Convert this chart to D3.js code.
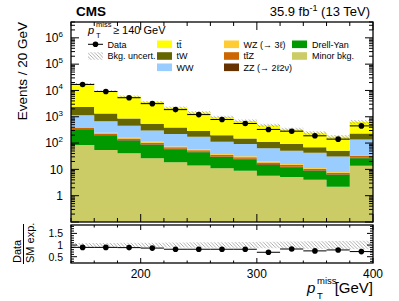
<!DOCTYPE html>
<html><head><meta charset="utf-8">
<script src="https://cdn.jsdelivr.net/npm/d3@7"></script>
<style>
body{margin:0;background:#fff}
svg{display:block;font-family:"Liberation Sans",Arial,Helvetica,sans-serif}
</style>
</head><body>
<svg id="c" width="399" height="301"></svg>
<script>
// ---- data ----
const binEdges = [140,160,180,200,220,240,260,280,300,320,340,360,380,400];
const minorBkg = [84, 54, 41, 26.5, 18.7, 13.9, 11.1, 8.8, 5.7, 5.1, 4.0, 2.2, 13.6];
const drellYan = [246, 141, 85, 59.5, 39.3, 30.6, 18.6, 15.2, 9.1, 7.0, 4.8, 4.0, 12.9];
const zz       = [12, 7.5, 5, 4, 2.4, 1.8, 1.4, 1.1, 0.75, 0.6, 0.4, 0.27, 1.3];
const ttz      = [45, 27, 19, 14, 8.8, 6.6, 5, 4.1, 2.8, 2.2, 1.4, 1.0, 4.7];
const wz       = [25, 15, 10, 8, 4.8, 3.6, 2.7, 2.3, 1.5, 1.2, 0.8, 0.55, 2.5];
const ww       = [728, 430, 292, 191, 146, 117, 73.5, 60, 43.3, 34.9, 31.9, 22.7, 102];
const tw       = [1200, 645, 410, 240, 172, 113, 88, 58, 49, 41, 26, 20.5, 96];
const ttbar    = [15460, 8080, 5040, 3080, 1830, 1155, 785, 545, 363, 238, 176, 122, 402];
const dataObs  = [16900, 9150, 5290, 3150, 1870, 1210, 785, 555, 330, 283, 189, 141, 450];
const ratio    = [0.90, 0.90, 0.89, 0.87, 0.82, 0.82, 0.82, 0.82, 0.69, 0.83, 0.75, 0.79, 0.72];
const relUnc   = [0.09, 0.09, 0.10, 0.10, 0.11, 0.12, 0.12, 0.13, 0.14, 0.15, 0.16, 0.17, 0.18];
const yTickExps = [0,1,2,3,4,5,6];
const xTickLabels = [200,300,400];
const rTickLabels = [0.5,1,1.5];

const seriesKeys = ["minor","dy","zz","ttz","wz","ww","tw","tt"];
const seriesColors = {minor:"#cccc66", dy:"#009900", zz:"#663300", ttz:"#cc6600", wz:"#ffcc33", ww:"#99ccff", tw:"#666600", tt:"#ffff00"};

const rows = binEdges.slice(0,-1).map((e,i)=>({x0:e, x1:binEdges[i+1],
  minor:minorBkg[i], dy:drellYan[i], zz:zz[i], ttz:ttz[i], wz:wz[i], ww:ww[i], tw:tw[i], tt:ttbar[i]}));

// ---- layout ----
const L=71, R=373, T=22, B=222, RT=225, RB=263;
const svg = d3.select("#c");
const x = d3.scaleLinear().domain([140,400]).range([L,R]);
const y = d3.scaleLog().domain([0.1,4e6]).range([B,T]).clamp(true);
const yr = d3.scaleLinear().domain([0.23,1.86]).range([RB,RT]).clamp(true);

const defs = svg.append("defs");
const pat = defs.append("pattern").attr("id","hatch").attr("patternUnits","userSpaceOnUse")
  .attr("width",3.5).attr("height",3.5);
pat.append("path").attr("d","M0,0L3.5,3.5M-1,2.5L1,4.5M2.5,-1L4.5,1")
  .attr("stroke","#999").attr("stroke-width",0.8);
defs.append("clipPath").attr("id","cm").append("rect").attr("x",L).attr("y",T).attr("width",R-L).attr("height",B-T);
defs.append("clipPath").attr("id","cr").append("rect").attr("x",L).attr("y",RT).attr("width",R-L).attr("height",RB-RT);

// ---- stack ----
const stacked = d3.stack().keys(seriesKeys)(rows);
const stepPts = s => { const p = s.map((d,i)=>({x:rows[i].x0, y0:d[0], y1:d[1]})); const l=s[s.length-1]; p.push({x:400,y0:l[0],y1:l[1]}); return p; };
const area = d3.area().curve(d3.curveStepAfter).x(d=>x(d.x)).y0(d=>y(Math.max(d.y0,0.1))).y1(d=>y(d.y1));
const gm = svg.append("g").attr("clip-path","url(#cm)");
stacked.forEach(s=>{
  gm.append("path").attr("d",area(stepPts(s))).attr("fill",seriesColors[s.key]);
});
// uncertainty band
const totals = rows.map((r,i)=>seriesKeys.reduce((a,k)=>a+r[k],0));
const uncPts = totals.map((t,i)=>({x:binEdges[i], lo:t*(1-relUnc[i]), hi:t*(1+relUnc[i])}));
uncPts.push({x:400, lo:uncPts[uncPts.length-1].lo, hi:uncPts[uncPts.length-1].hi});
gm.append("path").attr("d", d3.area().curve(d3.curveStepAfter).x(d=>x(d.x)).y0(d=>y(d.lo)).y1(d=>y(d.hi))(uncPts))
  .attr("fill","url(#hatch)");
// data
rows.forEach((r,i)=>{
  gm.append("line").attr("x1",x(r.x0)).attr("x2",x(r.x1)).attr("y1",y(dataObs[i])).attr("y2",y(dataObs[i])).attr("stroke","#000").attr("stroke-width",1);
  gm.append("circle").attr("cx",x((r.x0+r.x1)/2)).attr("cy",y(dataObs[i])).attr("r",2.8).attr("fill","#000");
});

// ---- ratio ----
const gr = svg.append("g").attr("clip-path","url(#cr)");
const rUnc = relUnc.map((u,i)=>({x:binEdges[i], lo:1-u, hi:1+u}));
rUnc.push({x:400, lo:rUnc[rUnc.length-1].lo, hi:rUnc[rUnc.length-1].hi});
gr.append("path").attr("d", d3.area().curve(d3.curveStepAfter).x(d=>x(d.x)).y0(d=>yr(d.lo)).y1(d=>yr(d.hi))(rUnc))
  .attr("fill","url(#hatch)");
rows.forEach((r,i)=>{
  gr.append("line").attr("x1",x(r.x0)).attr("x2",x(r.x1)).attr("y1",yr(ratio[i])).attr("y2",yr(ratio[i])).attr("stroke","#000").attr("stroke-width",1);
  gr.append("circle").attr("cx",x((r.x0+r.x1)/2)).attr("cy",yr(ratio[i])).attr("r",2.8).attr("fill","#000");
});

// ---- frames & ticks ----
const tk = svg.append("g").attr("stroke","#000").attr("stroke-width",1);
function tick(x1,y1,x2,y2){ tk.append("line").attr("x1",x1).attr("y1",y1).attr("x2",x2).attr("y2",y2); }
[[T,B],[RT,RB]].forEach(([t,b],pi)=>{
  binEdges.forEach(v=>{
    const maj = v%100===0; const len = maj ? (pi===0?8:5) : (pi===0?4:2.5);
    const px = x(v);
    tick(px,b,px,b-len); tick(px,t,px,t+len);
  });
});
for(let e=-1;e<=6;e++){
  for(let m=1;m<=9;m++){
    const v = m*Math.pow(10,e);
    if(v<0.1||v>4e6) continue;
    const len = m===1?8:4;
    const py = y(v);
    tick(L,py,L+len,py); tick(R,py,R-len,py);
  }
}
for(let k=3;k<=18;k++){
  const v=k/10; const maj = (k%5===0); const len = maj?6:3;
  const py=yr(v); tick(L,py,L+len,py); tick(R,py,R-len,py);
}
svg.append("rect").attr("x",L).attr("y",T).attr("width",R-L).attr("height",B-T).attr("fill","none").attr("stroke","#000").attr("stroke-width",1.3);
svg.append("rect").attr("x",L).attr("y",RT).attr("width",R-L).attr("height",RB-RT).attr("fill","none").attr("stroke","#000").attr("stroke-width",1.3);

// ---- tick labels ----
const lab = svg.append("g").attr("font-size",12).attr("fill","#000");
yTickExps.forEach(e=>{
  const t = lab.append("text").attr("x",63).attr("y",y(Math.pow(10,e))+4.3).attr("text-anchor","end");
  if(e===0) t.text("1");
  else if(e===1) t.text("10");
  else { t.append("tspan").text("10"); t.append("tspan").attr("font-size",8).attr("dy",-5.5).text(e); }
});
rTickLabels.forEach(v=>{
  lab.append("text").attr("x",63).attr("y",yr(v)+3.9).attr("font-size",10.5).attr("text-anchor","end").text(v);
});
xTickLabels.forEach(v=>{
  lab.append("text").attr("x",x(v)).attr("y",278).attr("text-anchor","middle").text(v);
});

// ---- titles ----
svg.append("text").attr("x",76).attr("y",16).attr("font-size",13.5).attr("font-weight","bold").text("CMS");
const lumi = svg.append("text").attr("x",370).attr("y",16).attr("font-size",13).attr("text-anchor","end");
lumi.append("tspan").text("35.9 fb");
lumi.append("tspan").attr("font-size",9).attr("dy",-5).text("-1");
lumi.append("tspan").attr("dy",5).text(" (13 TeV)");

svg.append("text").attr("x",88).attr("y",33.5).attr("font-size",11).attr("font-style","italic").text("p");
svg.append("text").attr("x",96).attr("y",27).attr("font-size",7.5).text("miss");
svg.append("text").attr("x",96).attr("y",38).attr("font-size",7.5).text("T");
svg.append("text").attr("x",113).attr("y",33.5).attr("font-size",11).text("\u2265 140 GeV");

svg.append("text").attr("transform","translate(27,22) rotate(-90)").attr("text-anchor","end").attr("font-size",13.5).text("Events / 20 GeV");
svg.append("text").attr("transform","translate(21,263) rotate(-90)").attr("font-size",11).text("Data");
svg.append("line").attr("x1",23.5).attr("x2",23.5).attr("y1",224).attr("y2",264).attr("stroke","#000").attr("stroke-width",1);
svg.append("text").attr("transform","translate(34,263) rotate(-90)").attr("font-size",11).text("SM exp.");
svg.append("text").attr("x",307).attr("y",292.5).attr("font-size",15).attr("font-style","italic").text("p");
svg.append("text").attr("x",317).attr("y",284).attr("font-size",9.5).text("miss");
svg.append("text").attr("x",317).attr("y",299).attr("font-size",9.5).text("T");
svg.append("text").attr("x",373).attr("y",292.5).attr("font-size",15).attr("text-anchor","end").text("[GeV]");

// ---- legend ----
const leg = svg.append("g").attr("font-size",9);
const legendItems = [
  {c:0,r:0,type:"data",label:"Data"},
  {c:0,r:1,type:"hatch",label:"Bkg. uncert."},
  {c:1,r:0,type:"tt",label:"tt\u0304"},
  {c:1,r:1,type:"tw",label:"tW"},
  {c:1,r:2,type:"ww",label:"WW"},
  {c:2,r:0,type:"wz",label:"WZ (\u2192 3\u2113)"},
  {c:2,r:1,type:"ttz",label:"tt\u0304Z"},
  {c:2,r:2,type:"zz",label:"ZZ (\u2192 2\u21132\u03bd)"},
  {c:3,r:0,type:"dy",label:"Drell-Yan"},
  {c:3,r:1,type:"minor",label:"Minor bkg."}
];
const colX = [88,157,224,292];
const rowY = [44.3,56,67.3];
legendItems.forEach(it=>{
  const bx = colX[it.c], cy = rowY[it.r];
  if(it.type==="data"){
    leg.append("line").attr("x1",bx).attr("x2",bx+15).attr("y1",cy).attr("y2",cy).attr("stroke","#000");
    leg.append("circle").attr("cx",bx+7.5).attr("cy",cy).attr("r",2.8).attr("fill","#000");
  } else if(it.type==="hatch"){
    leg.append("rect").attr("x",bx).attr("y",cy-3.8).attr("width",15).attr("height",7.6).attr("fill","url(#hatch)");
  } else {
    leg.append("rect").attr("x",bx).attr("y",cy-3.8).attr("width",15).attr("height",7.6).attr("fill",seriesColors[it.type]);
  }
  leg.append("text").attr("x",bx+(it.c===3?20:19.5)).attr("y",cy+3.2).text(it.label);
});
</script>
</body></html>
